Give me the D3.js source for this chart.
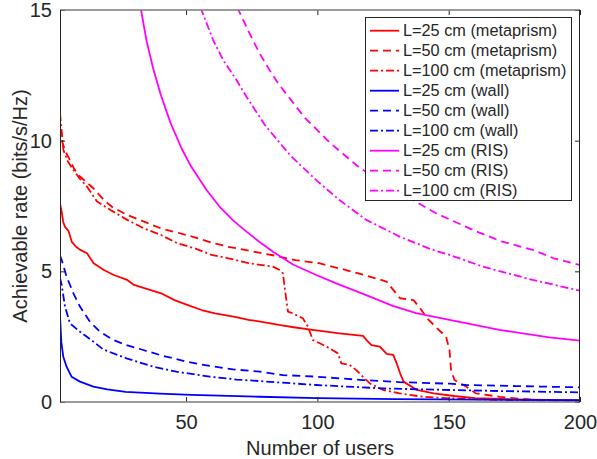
<!DOCTYPE html>
<html>
<head>
<meta charset="utf-8">
<script src="https://cdn.jsdelivr.net/npm/d3@7"></script>
<style>
  body { margin: 0; background: #fff; }
  svg text { font-family: "Liberation Sans", Arial, Helvetica, sans-serif; fill: #262626; }
</style>
</head>
<body>
<div class="chart"></div>
<script>
// values, [users, rate]
const meta25 = [[2,7.6],[2.6,7.3],[3.2,6.9],[3.9,6.7],[5.2,6.55],[6.5,6.13],[8,5.95],[9.7,5.82],[12.3,5.69],[14.8,5.31],[18.7,5.05],[22.5,4.86],[27.6,4.67],[30.2,4.48],[35,4.33],[40.5,4.16],[45.6,3.9],[50.7,3.71],[55.9,3.52],[61,3.39],[68.6,3.26],[73.8,3.14],[78.9,3.07],[85.3,2.95],[91,2.86],[98.2,2.76],[108.4,2.63],[117.4,2.53],[118.7,2.37],[120.6,2.18],[123.8,2.12],[126.4,1.84],[128.9,1.8],[130.2,1.48],[131.5,1.1],[132.8,0.78],[137.9,0.46],[144.3,0.33],[152,0.23],[160,0.15],[175,0.1],[200,0.06]];
const meta50 = [[2,10.5],[3,9.9],[4,9.6],[5.8,9.26],[7.5,8.9],[9.7,8.62],[14.8,8.17],[18.7,7.73],[22,7.45],[27.6,7.16],[34,6.9],[40.5,6.64],[46.8,6.48],[53.3,6.3],[59.7,6.1],[66.1,5.94],[73.8,5.79],[78.9,5.69],[83.9,5.6],[91.6,5.43],[100.6,5.31],[110.9,5.05],[119.9,4.8],[126.3,4.61],[128.9,4.29],[131.5,3.97],[136.6,3.9],[139.2,3.58],[141.8,3.2],[145.6,2.82],[149,2.5],[150.3,1.99],[150.9,1.22],[152.2,0.84],[156.6,0.59],[160.4,0.33],[169.3,0.2],[182,0.08],[200,0.03]];
const meta100 = [[2,11.05],[2.6,10.4],[3.3,9.64],[5,9.2],[7.1,8.88],[9.5,8.55],[12.3,8.24],[16.1,7.67],[21.2,7.35],[27.6,6.97],[34,6.64],[40.5,6.39],[46.8,6.07],[53.3,5.88],[59.7,5.63],[66.1,5.5],[73.8,5.31],[78.9,5.24],[83.1,5.18],[85.6,5.05],[86.9,4.92],[87.5,4.41],[88.2,3.9],[88.8,3.46],[90.7,3.39],[94.5,3.2],[96.4,2.88],[98.3,2.37],[100.9,2.25],[104.7,2.05],[107.8,1.86],[109.1,1.48],[112.3,1.42],[114.8,1.22],[117.3,0.97],[120,0.71],[125,0.46],[131.3,0.33],[140.1,0.2],[150.3,0.14],[170,0.08],[200,0.05]];

const wall25 = [[2,3.3],[2.5,2.3],[3.25,1.73],[4.5,1.35],[6.4,0.97],[9.6,0.78],[14.7,0.59],[20,0.48],[27,0.39],[40,0.32],[52,0.27],[78,0.2],[100,0.15],[130,0.11],[160,0.09],[200,0.07]];
const wall50 = [[2,5.6],[2.6,5.45],[4.5,4.8],[7.1,4.16],[9.6,3.65],[13.4,3.07],[17.2,2.69],[22.3,2.37],[27.3,2.18],[33.7,1.99],[40,1.8],[50.2,1.54],[59,1.38],[67.9,1.25],[78,1.16],[86.9,1.03],[99.6,0.97],[117.3,0.84],[131.3,0.76],[150.3,0.7],[156.6,0.65],[175.6,0.61],[200,0.56]];
const wall100 = [[2,4.75],[2.6,4.5],[3.9,3.65],[5.8,3.01],[9.6,2.69],[14.7,2.31],[18.5,2.01],[27.3,1.67],[37.5,1.35],[46.3,1.16],[59,0.97],[69.2,0.86],[78,0.8],[99.6,0.65],[125,0.52],[150.3,0.46],[169.3,0.42],[200,0.37]];

const ris25 = [[32.5,15.2],[35,13.8],[37.5,12.75],[40.4,11.75],[44,10.7],[48.3,9.7],[52,9.0],[57.8,8.11],[62.8,7.47],[67.9,6.95],[73,6.52],[78,6.12],[83.1,5.75],[90.7,5.26],[99.6,4.86],[107.2,4.54],[118.6,4.09],[128.7,3.68],[137.6,3.4],[150.3,3.14],[169.3,2.76],[188.3,2.47],[200,2.35]];
const ris50 = [[69.5,15.1],[74.2,14.1],[78,13.34],[81.8,12.7],[85,12.2],[95,10.9],[105,9.9],[115,9.05],[125,8.35],[136.3,7.73],[145.2,7.22],[160,6.55],[170,6.15],[182,5.82],[190,5.5],[200,5.24]];
const ris100 = [[55.5,15.1],[60.3,13.85],[64.1,13.09],[69.2,12.32],[73,11.68],[80,10.6],[90,9.4],[100,8.45],[108.4,7.73],[118.6,6.97],[131.3,6.33],[143.9,5.82],[150.3,5.63],[163,5.18],[182,4.67],[200,4.26]];

const labels = ["L=25 cm (metaprism)","L=50 cm (metaprism)","L=100 cm (metaprism)",
                "L=25 cm (wall)","L=50 cm (wall)","L=100 cm (wall)",
                "L=25 cm (RIS)","L=50 cm (RIS)","L=100 cm (RIS)"];
const xTicks = [50, 100, 150, 200];
const yTicks = [0, 5, 10, 15];

// styles per series
const red = "#ff0000", blue = "#0000ff", mag = "#ff00ff";
const solid = null, dashed = "8,5", dashdot = "8,3,2,3";
const series = [
  {data: meta25, color: red, dash: solid},
  {data: meta50, color: red, dash: dashed},
  {data: meta100, color: red, dash: dashdot},
  {data: wall25, color: blue, dash: solid},
  {data: wall50, color: blue, dash: dashed},
  {data: wall100, color: blue, dash: dashdot},
  {data: ris25, color: mag, dash: solid},
  {data: ris50, color: mag, dash: dashed},
  {data: ris100, color: mag, dash: dashdot}
];
series.forEach((s, i) => s.label = labels[i]);

// plot box in pixels
const W = 597, H = 459;
const box = {left: 60, right: 580, top: 10, bottom: 402};

const svg = d3.select(".chart").append("svg")
              .attr("width", W)
              .attr("height", H);

const x = d3.scaleLinear().domain([2, 200]).range([box.left, box.right]);
const y = d3.scaleLinear().domain([0, 15]).range([box.bottom, box.top]);

svg.append("clipPath").attr("id", "clip")
   .append("rect")
   .attr("x", box.left).attr("y", box.top)
   .attr("width", box.right - box.left).attr("height", box.bottom - box.top);

const line = d3.line()
               .x(d => x(d[0]))
               .y(d => y(d[1]));

svg.append("g").attr("clip-path", "url(#clip)")
   .selectAll("path")
   .data(series)
   .join("path")
   .attr("d", d => line(d.data))
   .attr("fill", "none")
   .attr("stroke", d => d.color)
   .attr("stroke-width", 1.8)
   .attr("stroke-dasharray", d => d.dash)
   .attr("stroke-linejoin", "round");

// axes, ticks pointing inward (matlab style)
const xAxis = d3.axisBottom(x).tickValues(xTicks).tickSizeInner(-5).tickSizeOuter(0).tickPadding(13);
const yAxis = d3.axisLeft(y).tickValues(yTicks).tickSizeInner(-5).tickSizeOuter(0).tickPadding(8);

svg.append("g").attr("transform", `translate(0,${box.bottom})`).call(xAxis);
svg.append("g").attr("transform", `translate(${box.left},0)`).call(yAxis);
svg.append("g").attr("transform", `translate(0,${box.top})`)
   .call(d3.axisTop(x).tickValues(xTicks).tickSizeInner(-5).tickSizeOuter(0).tickFormat(""));
svg.append("g").attr("transform", `translate(${box.right},0)`)
   .call(d3.axisRight(y).tickValues(yTicks).tickSizeInner(-5).tickSizeOuter(0).tickFormat(""));

svg.selectAll(".domain").remove();
svg.selectAll(".tick line").attr("stroke", "#262626");
svg.selectAll(".tick text").attr("font-size", 20).attr("fill", "#262626")
   .attr("font-family", "Liberation Sans, Arial, sans-serif");

// box
svg.append("line").attr("x1", box.left).attr("x2", box.right).attr("y1", box.top).attr("y2", box.top)
   .attr("stroke", "#7a7a7a").attr("stroke-width", 1.5);
svg.append("line").attr("x1", box.left).attr("x2", box.right).attr("y1", box.bottom).attr("y2", box.bottom)
   .attr("stroke", "#7a7a7a").attr("stroke-width", 1.5);
svg.append("line").attr("x1", box.left + 0.5).attr("x2", box.left + 0.5).attr("y1", box.top).attr("y2", box.bottom)
   .attr("stroke", "#262626").attr("stroke-width", 1);
svg.append("line").attr("x1", box.right - 0.5).attr("x2", box.right - 0.5).attr("y1", box.top).attr("y2", box.bottom)
   .attr("stroke", "#262626").attr("stroke-width", 1);

// axis labels
svg.append("text")
   .attr("x", (box.left + box.right) / 2).attr("y", 455)
   .attr("text-anchor", "middle").attr("font-size", 20)
   .text("Number of users");

svg.append("text")
   .attr("transform", `translate(27,${(box.top + box.bottom) / 2}) rotate(-90)`)
   .attr("text-anchor", "middle").attr("font-size", 20)
   .text("Achievable rate (bits/s/Hz)");

// legend
const lg = svg.append("g");
lg.append("rect")
  .attr("x", 365.5).attr("y", 17.5).attr("width", 206).attr("height", 183)
  .attr("fill", "#fff").attr("stroke", "#262626").attr("stroke-width", 1);

const rows = lg.selectAll("g.row")
               .data(series)
               .join("g")
               .attr("class", "row")
               .attr("transform", (d, i) => `translate(0,${30.7 + i * 20})`);

rows.append("line")
    .attr("x1", 370).attr("x2", 399)
    .attr("stroke", d => d.color)
    .attr("stroke-width", 1.8)
    .attr("stroke-dasharray", d => d.dash);

rows.append("text")
    .attr("x", 403).attr("dy", "0.35em")
    .attr("font-size", 16.3)
    .text(d => d.label);
</script>
</body>
</html>
